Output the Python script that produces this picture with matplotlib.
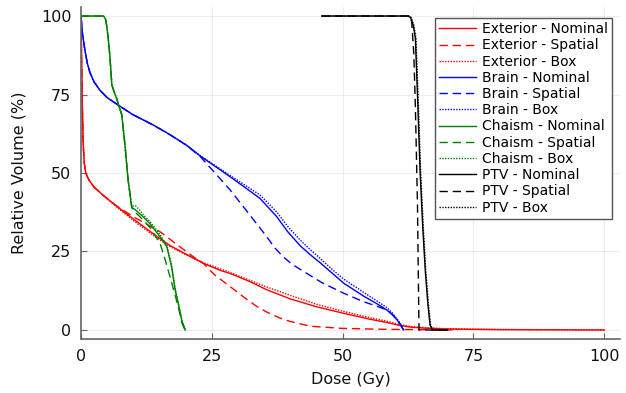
import matplotlib
matplotlib.use("Agg")
import matplotlib.pyplot as plt

# ---------------- data ----------------
ext_nom_x = [0, 0.1, 0.25, 0.4, 0.6, 0.9, 1.5, 2.5, 3.5, 4.3, 5.5, 7, 8, 10.6, 14.5, 17, 20, 23.4, 26.6, 28.5, 32.3, 35.5, 40, 45, 50.2, 55, 58.4, 61, 63, 66, 70, 75, 80, 90, 100]
ext_nom_y = [100, 88, 72, 60, 53.5, 50, 47.8, 45.5, 44.0, 42.8, 41.2, 39.2, 37.9, 34.6, 29.8, 26.9, 24.2, 21.2, 19.0, 18.0, 15.4, 12.8, 9.9, 7.4, 5.3, 3.5, 2.4, 1.4, 0.9, 0.55, 0.3, 0.2, 0.12, 0.05, 0.0]

ext_spa_x = [0, 0.1, 0.25, 0.4, 0.6, 0.9, 1.5, 2.5, 3.5, 4.3, 5.5, 7, 8, 10.6, 15.1, 18, 21.5, 23.4, 25.5, 28.5, 31, 33.5, 35.5, 38, 40, 43.8, 50, 58.4, 65, 72]
ext_spa_y = [100, 88, 72, 60, 53.5, 50, 47.8, 45.5, 44.0, 42.8, 41.2, 39.3, 38.2, 35.5, 31.3, 27.6, 23.3, 21.2, 17.6, 13.8, 10.6, 7.6, 5.7, 3.8, 2.7, 1.2, 0.5, 0.2, 0.1, 0.0]

ext_box_x = [0, 0.1, 0.25, 0.4, 0.6, 0.9, 1.5, 2.5, 3.5, 4.3, 5.5, 7, 8, 10.6, 14.5, 17, 20, 23.4, 26.6, 30, 35.5, 40, 45, 50.2, 55, 58.4, 61, 63, 66, 70, 75, 80, 90, 100]
ext_box_y = [100, 88, 72, 60, 53.5, 50, 47.8, 45.5, 44.0, 42.8, 41.0, 38.9, 37.6, 34.1, 29.3, 26.6, 24.0, 21.4, 19.5, 17.3, 13.7, 11.0, 8.2, 5.9, 4.0, 2.8, 1.7, 1.1, 0.7, 0.4, 0.25, 0.15, 0.07, 0.0]

brain_nom_x = [0, 0.3, 0.76, 1.2, 1.7, 2.5, 3.6, 5, 7.5, 10, 13.8, 17, 20.2, 22.8, 26.6, 28.5, 31, 34.2, 37.4, 39.5, 41.9, 43.8, 45.7, 48, 50.2, 54, 56.5, 58.4, 59.5, 60.5, 61.1, 61.6]
brain_nom_y = [100, 94, 89, 85, 82, 79, 76.4, 74, 71.2, 68.5, 65.3, 62.2, 58.8, 55.4, 51.0, 48.8, 45.8, 41.9, 36.1, 31.3, 26.8, 24.0, 21.4, 18.1, 14.9, 10.8, 8.4, 6.4, 4.9, 3.0, 1.5, 0.0]

brain_spa_x = [0, 0.3, 0.76, 1.2, 1.7, 2.5, 3.6, 5, 7.5, 10, 13.8, 17, 20.2, 22.8, 25.5, 28.5, 32, 35.5, 37, 38.7, 40.2, 41.9, 46, 50.2, 54, 56.5, 58.4, 59.5, 60.5, 61.1, 61.6]
brain_spa_y = [100, 94, 89, 85, 82, 79, 76.4, 74, 71.2, 68.5, 65.3, 62.2, 58.8, 55.2, 50.2, 44.6, 37.2, 29.7, 26.2, 23.2, 21.1, 19.3, 15.1, 11.7, 9.0, 7.6, 6.4, 4.9, 3.0, 1.5, 0.0]

brain_box_x = [0, 0.3, 0.76, 1.2, 1.7, 2.5, 3.6, 5, 7.5, 10, 13.8, 17, 20.2, 22.8, 26.6, 28.5, 31, 34.2, 37.4, 39.5, 41.9, 43.8, 45.7, 48, 50.2, 54, 56.5, 58.4, 59.5, 60.5, 61.2, 61.7]
brain_box_y = [100, 94, 89, 85, 82, 79, 76.4, 74, 71.2, 68.5, 65.3, 62.2, 58.8, 55.5, 51.3, 49.2, 46.5, 43.0, 37.6, 33.0, 28.6, 25.6, 22.8, 19.3, 16.2, 12.0, 9.3, 7.2, 5.4, 3.3, 1.6, 0.0]

chi_nom_x = [0, 4.3, 4.7, 4.9, 5.2, 5.5, 5.9, 6.3, 6.8, 7.3, 7.8, 8.4, 9.0, 9.7, 10.3, 11.9, 13.2, 15.1, 16.4, 17.3, 18.0, 18.7, 19.3, 19.9]
chi_nom_y = [100, 100, 99, 97, 93, 87.6, 78, 76, 73.8, 71, 68.5, 58.9, 47.8, 39.0, 38.4, 36.0, 33.8, 29.7, 26.5, 20.2, 12.7, 7.5, 2.7, 0.0]

chi_spa_x = [0, 4.3, 4.7, 4.9, 5.2, 5.5, 5.9, 6.3, 6.8, 7.3, 7.8, 8.4, 9.0, 9.7, 10.3, 11.9, 13.2, 15.1, 16.1, 17.0, 18.0, 18.7, 19.3, 19.8]
chi_spa_y = [100, 100, 99, 97, 93, 87.6, 78, 76, 73.8, 71, 68.5, 58.9, 47.8, 39.0, 37.6, 35.0, 32.6, 27.6, 22.3, 17.0, 11.0, 6.5, 2.2, 0.0]

chi_box_x = [0, 4.3, 4.7, 4.9, 5.2, 5.5, 5.9, 6.3, 6.8, 7.3, 7.8, 8.4, 9.0, 9.7, 10.4, 11.2, 12.0, 13.2, 15.1, 16.4, 17.3, 18.0, 18.7, 19.3, 20.0]
chi_box_y = [100, 100, 99, 97, 93, 87.6, 78, 76, 73.8, 71, 68.5, 58.9, 47.8, 39.4, 39.6, 38.2, 36.5, 34.5, 30.4, 27.0, 20.8, 13.2, 7.8, 3.0, 0.0]

ptv_nom_x = [46, 62.5, 63.0, 63.5, 63.9, 64.3, 64.8, 65.3, 65.8, 66.3, 66.7, 67.2, 68, 70]
ptv_nom_y = [100, 100, 99.5, 97, 92.9, 75, 50.4, 33, 18.6, 8, 1.6, 0.0, 0.0, 0.0]

ptv_spa_x = [46, 62.9, 63.2, 63.6, 63.9, 64.3, 64.5, 64.6, 65, 70]
ptv_spa_y = [100, 100, 98, 88, 71, 40, 12, 0.0, 0.0, 0.0]

ptv_box_x = [46, 62.6, 63.1, 63.6, 64.0, 64.4, 64.9, 65.4, 65.9, 66.4, 66.8, 67.3, 68, 70]
ptv_box_y = [100, 100, 99.5, 97, 92.9, 75, 50.4, 33, 18.6, 8, 1.6, 0.0, 0.0, 0.0]

structures = ["Exterior", "Brain", "Chaism", "PTV"]
variants = ["Nominal", "Spatial", "Box"]
x_ticks = [0, 25, 50, 75, 100]
y_ticks = [0, 25, 50, 75, 100]

series = {
    ("Exterior", "Nominal"): (ext_nom_x, ext_nom_y),
    ("Exterior", "Spatial"): (ext_spa_x, ext_spa_y),
    ("Exterior", "Box"): (ext_box_x, ext_box_y),
    ("Brain", "Nominal"): (brain_nom_x, brain_nom_y),
    ("Brain", "Spatial"): (brain_spa_x, brain_spa_y),
    ("Brain", "Box"): (brain_box_x, brain_box_y),
    ("Chaism", "Nominal"): (chi_nom_x, chi_nom_y),
    ("Chaism", "Spatial"): (chi_spa_x, chi_spa_y),
    ("Chaism", "Box"): (chi_box_x, chi_box_y),
    ("PTV", "Nominal"): (ptv_nom_x, ptv_nom_y),
    ("PTV", "Spatial"): (ptv_spa_x, ptv_spa_y),
    ("PTV", "Box"): (ptv_box_x, ptv_box_y),
}

colors = {"Exterior": "#ff0000", "Brain": "#0000ff", "Chaism": "#008000", "PTV": "#000000"}
styles = {"Nominal": "-", "Spatial": (0, (6, 3.5)), "Box": (0, (1, 1))}

# ---------------- plot ----------------
fig = plt.figure(figsize=(6.26, 3.93), dpi=100)
ax = fig.add_axes([0.1294, 0.1364, 0.861, 0.8468])

for s in structures:
    for v in variants:
        xs, ys = series[(s, v)]
        ax.plot(xs, ys, color=colors[s], linestyle=styles[v], linewidth=1.0,
                label=f"{s} - {v}")

ax.set_xlim(0, 103)
ax.set_ylim(-3, 103)
ax.set_xticks(x_ticks)
ax.set_yticks(y_ticks)
ax.grid(True, color="#000000", alpha=0.07, linewidth=0.8)
ax.set_axisbelow(True)

for side in ["top", "right"]:
    ax.spines[side].set_visible(False)
for side in ["left", "bottom"]:
    ax.spines[side].set_color("#666666")
    ax.spines[side].set_linewidth(1.2)

ax.tick_params(direction="in", length=4, width=0.8, color="#666666",
               labelsize=11.5, pad=7, labelcolor="#111111")
ax.set_xlabel("Dose (Gy)", fontsize=11.5, labelpad=6, color="#111111")
ax.set_ylabel("Relative Volume (%)", fontsize=11.5, labelpad=10, color="#111111")

leg = ax.legend(loc="upper right", bbox_to_anchor=(612 / 626, (393 - 18) / 393),
                bbox_transform=fig.transFigure, borderaxespad=0,
                fontsize=10, frameon=True, fancybox=False, framealpha=1,
                edgecolor="#555555", handlelength=2.65, handletextpad=0.45,
                labelspacing=0.16, borderpad=0.3)
leg.get_frame().set_linewidth(1.0)

fig.savefig("out.png", dpi=100)
